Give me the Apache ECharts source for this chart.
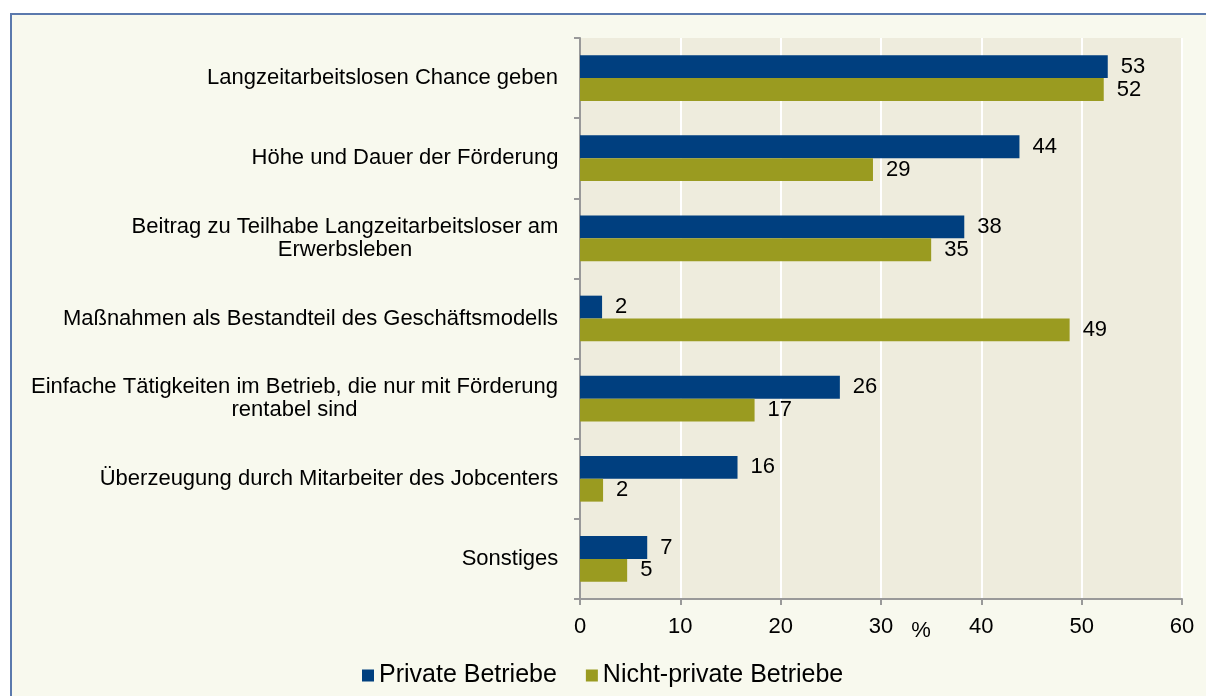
<!DOCTYPE html>
<html>
<head>
<meta charset="utf-8">
<script src="https://cdn.jsdelivr.net/npm/echarts@6/dist/echarts.min.js"></script>
<style>
html,body{margin:0;padding:0;background:#ffffff;}
#chart{width:1206px;height:696px;}
</style>
</head>
<body>
<div id="chart"></div>
<script>
const categories = [
  "Langzeitarbeitslosen Chance geben",
  "Höhe und Dauer der Förderung",
  "Beitrag zu Teilhabe Langzeitarbeitsloser am\nErwerbsleben",
  "Maßnahmen als Bestandteil des Geschäftsmodells",
  "Einfache Tätigkeiten im Betrieb, die nur mit Förderung\nrentabel sind",
  "Überzeugung durch Mitarbeiter des Jobcenters",
  "Sonstiges"
];
const privateValues = [52.6, 43.8, 38.3, 2.2, 25.9, 15.7, 6.7];
const nonPrivateValues = [52.2, 29.2, 35.0, 48.8, 17.4, 2.3, 4.7];
const seriesNames = ["Private Betriebe", "Nicht-private Betriebe"];
const xTicks = [0, 10, 20, 30, 40, 50, 60];

const FONT = "Liberation Sans, Arial, sans-serif";
const FS = 22;
const LFS = 25;

// measure lines so multi-line labels are centered within a right-aligned block
const ctx = document.createElement('canvas').getContext('2d');
ctx.font = FS + "px " + FONT;
const rich = {};
categories.forEach((c, i) => {
  const w = Math.max(...c.split("\n").map(l => ctx.measureText(l).width));
  rich['c' + i] = {width: Math.ceil(w) + 1, align: 'center', fontSize: FS, fontFamily: FONT, color: '#000', lineHeight: 23};
});

const chart = echarts.init(document.getElementById('chart'));
chart.setOption({
  backgroundColor: '#ffffff',
  animation: false,
  graphic: [{
    type: 'rect', z: -10, silent: true,
    shape: {x: 11, y: 14, width: 1300, height: 800},
    style: {fill: '#f8f9ee', stroke: '#5b79ad', lineWidth: 2}
  }],
  legend: {
    bottom: 3, left: 357,
    itemWidth: 12, itemHeight: 12, itemGap: 29,
    icon: 'rect',
    textStyle: {fontSize: LFS, fontFamily: FONT, color: '#000'},
    data: seriesNames
  },
  grid: {
    left: 580, right: 24, top: 38, bottom: 97,
    show: true, backgroundColor: '#eeecdd', borderWidth: 0
  },
  xAxis: {
    type: 'value', min: 0, max: 60, interval: 10,
    name: '%', nameLocation: 'middle', nameGap: 21, nameMoveOverlap: false,
    nameTextStyle: {fontSize: FS, fontFamily: FONT, color: '#000', padding: [0, 0, 0, 80]},
    axisLine: {show: true, lineStyle: {color: '#999999', width: 2}},
    axisTick: {show: true, length: 6, lineStyle: {color: '#999999', width: 2}},
    splitLine: {show: true, lineStyle: {color: '#ffffff', width: 2}},
    axisLabel: {
      margin: 17, fontSize: FS, fontFamily: FONT, color: '#000',
      formatter: v => xTicks.includes(v) ? String(v) : ''
    }
  },
  yAxis: {
    type: 'category', inverse: true, data: categories,
    axisLine: {show: true, lineStyle: {color: '#999999', width: 2}},
    axisTick: {show: true, length: 6, lineStyle: {color: '#999999', width: 2}},
    axisLabel: {
      margin: 21, align: 'right',
      formatter: (v) => {
        const i = categories.indexOf(v);
        return v.split("\n").map(l => '{c' + i + '|' + l + '}').join("\n");
      },
      rich: rich
    }
  },
  series: [
    {
      name: seriesNames[0], type: 'bar', data: privateValues,
      barGap: '0%', barCategoryGap: '43%',
      itemStyle: {color: '#003f7f'},
      label: {show: true, position: 'right', distance: 13, fontSize: FS, fontFamily: FONT, color: '#000', formatter: p => Math.round(p.value)}
    },
    {
      name: seriesNames[1], type: 'bar', data: nonPrivateValues,
      barGap: '0%', barCategoryGap: '43%',
      itemStyle: {color: '#9a9b20'},
      label: {show: true, position: 'right', distance: 13, fontSize: FS, fontFamily: FONT, color: '#000', formatter: p => Math.round(p.value)}
    }
  ]
});
</script>
</body>
</html>
